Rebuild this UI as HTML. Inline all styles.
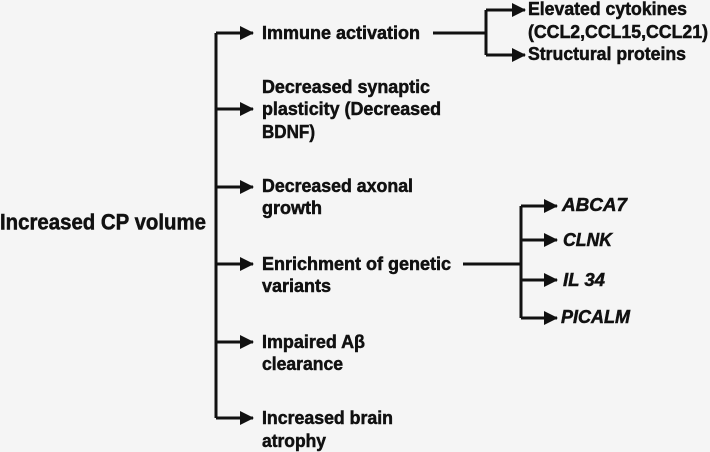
<!DOCTYPE html>
<html><head><meta charset="utf-8"><style>
html,body{margin:0;padding:0;background:#f5f5f5;}
svg{display:block;}
text{font-family:"Liberation Sans",Arial,sans-serif;font-weight:bold;font-size:18px;fill:#111;stroke:#111;stroke-width:0.5px;}
.i{font-style:italic;}
</style></head><body>
<svg width="710" height="452" viewBox="0 0 710 452">
<defs><marker id="a" markerWidth="14" markerHeight="14" refX="13" refY="7" orient="auto" markerUnits="userSpaceOnUse"><path d="M0,0 L14,7 L0,14 z" fill="#111"/></marker></defs>
<g stroke="#111" stroke-width="3" fill="none">
<path d="M216,33 V418"/>
<path d="M216,33 H253" marker-end="url(#a)"/>
<path d="M216,109 H253" marker-end="url(#a)"/>
<path d="M216,187 H253" marker-end="url(#a)"/>
<path d="M216,264 H253" marker-end="url(#a)"/>
<path d="M216,342 H253" marker-end="url(#a)"/>
<path d="M216,418 H253" marker-end="url(#a)"/>
<path d="M433,33 H486"/>
<path d="M486,10 V55"/>
<path d="M486,10 H525" marker-end="url(#a)"/>
<path d="M486,55 H525" marker-end="url(#a)"/>
<path d="M463,264 H521"/>
<path d="M521,206 V318"/>
<path d="M521,206 H557" marker-end="url(#a)"/>
<path d="M521,240 H557" marker-end="url(#a)"/>
<path d="M521,280 H557" marker-end="url(#a)"/>
<path d="M521,318 H557" marker-end="url(#a)"/>
</g>
<g dominant-baseline="central">
<text x="0" y="222" style="font-size:22px" textLength="206" lengthAdjust="spacingAndGlyphs">Increased CP volume</text>
<text x="262" y="33" textLength="158" lengthAdjust="spacingAndGlyphs">Immune activation</text>
<text x="262" y="87" textLength="168" lengthAdjust="spacingAndGlyphs">Decreased synaptic</text>
<text x="262" y="109" textLength="179" lengthAdjust="spacingAndGlyphs">plasticity (Decreased</text>
<text x="262" y="132" textLength="53" lengthAdjust="spacingAndGlyphs">BDNF)</text>
<text x="262" y="186" textLength="151" lengthAdjust="spacingAndGlyphs">Decreased axonal</text>
<text x="262" y="208" textLength="60" lengthAdjust="spacingAndGlyphs">growth</text>
<text x="262" y="264" textLength="189" lengthAdjust="spacingAndGlyphs">Enrichment of genetic</text>
<text x="262" y="286" textLength="69" lengthAdjust="spacingAndGlyphs">variants</text>
<text x="262" y="342" textLength="103" lengthAdjust="spacingAndGlyphs">Impaired Aβ</text>
<text x="262" y="364" textLength="81" lengthAdjust="spacingAndGlyphs">clearance</text>
<text x="262" y="418" textLength="131" lengthAdjust="spacingAndGlyphs">Increased brain</text>
<text x="262" y="441" textLength="64" lengthAdjust="spacingAndGlyphs">atrophy</text>
<text x="528" y="9" textLength="159" lengthAdjust="spacingAndGlyphs">Elevated cytokines</text>
<text x="528" y="32" textLength="180" lengthAdjust="spacingAndGlyphs">(CCL2,CCL15,CCL21)</text>
<text x="528" y="54" textLength="158" lengthAdjust="spacingAndGlyphs">Structural proteins</text>
<text class="i" x="562" y="205" textLength="65" lengthAdjust="spacingAndGlyphs">ABCA7</text>
<text class="i" x="563" y="240" textLength="49" lengthAdjust="spacingAndGlyphs">CLNK</text>
<text class="i" x="563" y="280" textLength="42" lengthAdjust="spacingAndGlyphs">IL 34</text>
<text class="i" x="561" y="317" textLength="69" lengthAdjust="spacingAndGlyphs">PICALM</text>
</g>
</svg>
</body></html>
